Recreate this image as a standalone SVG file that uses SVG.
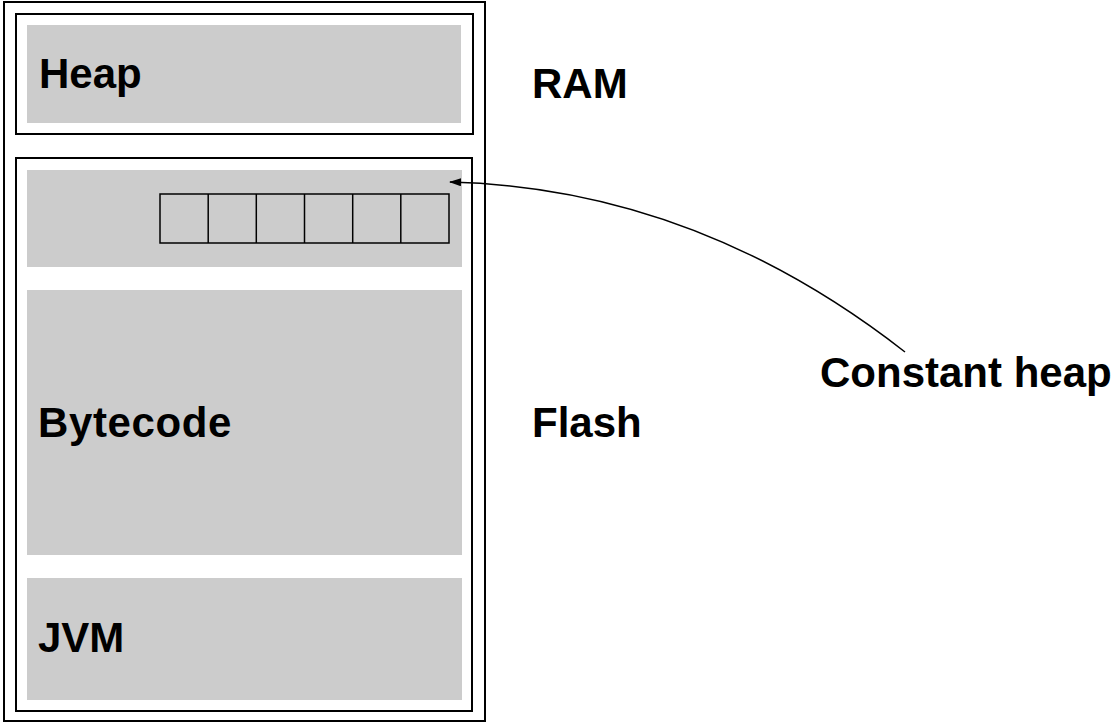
<svg xmlns="http://www.w3.org/2000/svg" width="1120" height="724" viewBox="0 0 1120 724">
  <defs>
    <style>
      .frame { fill: none; stroke: #000; stroke-width: 2; }
      .area { fill: #cccccc; stroke: none; }
      .cell { fill: none; stroke: #000; stroke-width: 1.5; }
      .lbl { font-family: "Liberation Sans", Arial, sans-serif; font-weight: bold; font-size: 42px; fill: #000; }
      .conn { fill: none; stroke: #000; stroke-width: 1.5; }
    </style>
    <marker id="arrow" viewBox="0 0 12 8" refX="11" refY="4" markerWidth="12" markerHeight="8" markerUnits="userSpaceOnUse" orient="auto">
      <path d="M0,0 L12,4 L0,8 Z" fill="#000"/>
    </marker>
  </defs>
  <rect width="1120" height="724" fill="#fff"/>

  <g id="memory">
    <rect class="frame" x="4" y="2" width="481" height="719"/>
  </g>

  <g id="ram">
    <rect class="frame" x="16" y="14" width="457" height="120"/>
    <g id="heap">
      <rect class="area" x="27" y="25" width="434" height="98"/>
      <text class="lbl" x="39" y="88">Heap</text>
    </g>
  </g>

  <g id="flash">
    <rect class="frame" x="16" y="158" width="456" height="553"/>
    <g id="constant-heap-area">
      <rect class="area" x="27" y="170" width="435" height="97"/>
      <rect class="cell" x="160" y="194" width="289" height="49"/>
      <line class="cell" x1="208.2" y1="194" x2="208.2" y2="243"/>
      <line class="cell" x1="256.3" y1="194" x2="256.3" y2="243"/>
      <line class="cell" x1="304.5" y1="194" x2="304.5" y2="243"/>
      <line class="cell" x1="352.7" y1="194" x2="352.7" y2="243"/>
      <line class="cell" x1="400.8" y1="194" x2="400.8" y2="243"/>
    </g>
    <g id="bytecode">
      <rect class="area" x="27" y="290" width="435" height="265"/>
      <text class="lbl" x="38" y="437" letter-spacing="0.6">Bytecode</text>
    </g>
    <g id="jvm">
      <rect class="area" x="27" y="578" width="435" height="122"/>
      <text class="lbl" x="38" y="652">JVM</text>
    </g>
  </g>

  <g id="label-ram">
    <text class="lbl" x="532" y="98">RAM</text>
  </g>
  <g id="label-flash">
    <text class="lbl" x="532" y="437">Flash</text>
  </g>
  <g id="label-constant-heap">
    <text class="lbl" x="820" y="387">Constant heap</text>
  </g>

  <g id="connectors">
    <path class="conn" d="M905,352 Q695,188 450,182" marker-end="url(#arrow)"/>
  </g>
</svg>
